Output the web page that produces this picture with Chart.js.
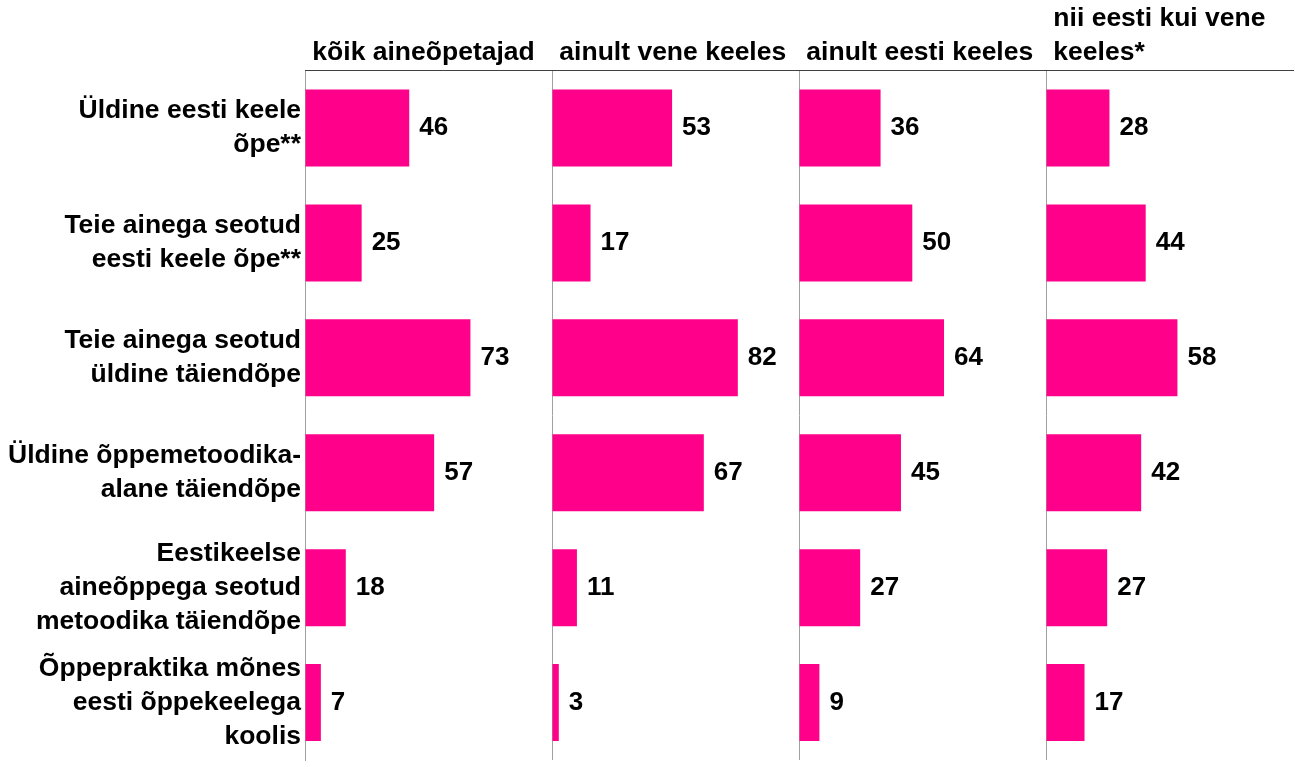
<!DOCTYPE html>
<html lang="et">
<head>
<meta charset="utf-8">
<title>Täiendõpe</title>
<script src="https://cdn.jsdelivr.net/npm/chart.js@4.4.1/dist/chart.umd.min.js"></script>
<style>
    html, body { margin: 0; padding: 0; background: #fff; }
    #wrap { position: relative; width: 1295px; height: 767px; }
</style>
</head>
<body>
<div id="wrap"><canvas id="chart"></canvas></div>
<script>
// Kategooriad (mitmerealised sildid)
const categories = [
    ['Üldine eesti keele', 'õpe**'],
    ['Teie ainega seotud', 'eesti keele õpe**'],
    ['Teie ainega seotud', 'üldine täiendõpe'],
    ['Üldine õppemetoodika-', 'alane täiendõpe'],
    ['Eestikeelse', 'aineõppega seotud', 'metoodika täiendõpe'],
    ['Õppepraktika mõnes', 'eesti õppekeelega', 'koolis']
];

// Paneelide pealkirjad
const panelTitles = [
    ['', ' kõik aineõpetajad'],
    ['', ' ainult vene keeles'],
    ['', ' ainult eesti keeles'],
    [' nii eesti kui vene', ' keeles*']
];

// Väärtused paneelide kaupa
const koikOpetajad = [46, 25, 73, 57, 18, 7];
const ainultVene = [53, 17, 82, 67, 11, 3];
const ainultEesti = [36, 50, 64, 45, 27, 9];
const molemas = [28, 44, 58, 42, 27, 17];

const series = [koikOpetajad, ainultVene, ainultEesti, molemas];

const PINK = '#FF008A';
const FONT = "'Liberation Sans', Arial, sans-serif";

// Väärtuste sildid tulpade järel
const valueLabels = {
    id: 'valueLabels',
    afterDatasetsDraw(chart) {
        const ctx = chart.ctx;
        ctx.save();
        ctx.font = `bold 26px ${FONT}`;
        ctx.fillStyle = '#000';
        ctx.textAlign = 'left';
        ctx.textBaseline = 'middle';
        chart.data.datasets.forEach((ds, i) => {
            chart.getDatasetMeta(i).data.forEach((bar, j) => {
                ctx.fillText(String(ds.data[j]), bar.x + 10, bar.y);
            });
        });
        ctx.restore();
    }
};

const scales = {
    y: {
        type: 'category',
        afterFit: (scale) => {
            scale.width = 305;
            // ära lase mitmerealistel siltidel joonisala kokku suruda
            scale.paddingTop = 0;
            scale.paddingBottom = 0;
        },
        grid: { display: false, drawTicks: false },
        border: { display: true, color: '#a0a0a0', width: 1 },
        ticks: {
            autoSkip: false,
            padding: 4,
            color: '#000',
            font: { family: FONT, size: 26.5, weight: 'bold', lineHeight: 1.29 }
        }
    }
};

series.forEach((_, i) => {
    scales['x' + i] = {
        type: 'linear',
        position: 'top',
        stack: 'panels',
        stackWeight: 1,
        weight: series.length - i, // ülemised kastid järjestatakse tagurpidi
        min: 0,
        max: 109,
        grid: {
            drawTicks: false,
            color: (c) => (c.tick && c.tick.value === 0 ? '#a0a0a0' : 'rgba(0,0,0,0)')
        },
        border: { display: true, color: '#404040', width: 1 },
        ticks: { display: false, stepSize: 109 },
        title: {
            display: true,
            text: panelTitles[i],
            align: 'start',
            color: '#000',
            padding: { top: 2, bottom: 1 },
            font: { family: FONT, size: 26.5, weight: 'bold', lineHeight: 1.275 }
        }
    };
});

new Chart(document.getElementById('chart'), {
    type: 'bar',
    data: {
        labels: categories,
        datasets: series.map((values, i) => ({
            label: panelTitles[i].join(' ').trim(),
            data: values,
            xAxisID: 'x' + i,
            backgroundColor: PINK,
            borderWidth: 0,
            grouped: false,
            categoryPercentage: 1,
            barPercentage: 0.67
        }))
    },
    options: {
        indexAxis: 'y',
        responsive: true,
        maintainAspectRatio: false,
        animation: false,
        layout: { padding: { top: 0, right: 2, bottom: 7, left: 0 } },
        plugins: {
            legend: { display: false },
            tooltip: { enabled: false }
        },
        scales: scales
    },
    plugins: [valueLabels]
});
</script>
</body>
</html>
